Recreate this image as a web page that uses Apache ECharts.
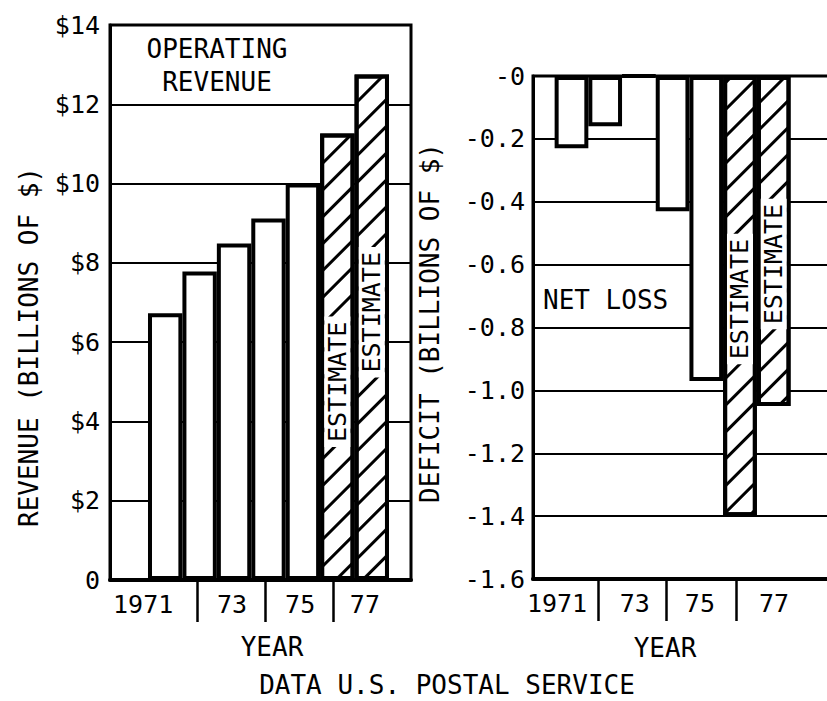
<!DOCTYPE html>
<html>
<head>
<meta charset="utf-8">
<script src="https://cdn.jsdelivr.net/npm/echarts@6/dist/echarts.min.js"></script>
<style>
  html, body { margin: 0; padding: 0; background: #fff; }
  #chart { width: 827px; height: 701px; }
</style>
</head>
<body>
<div id="chart"></div>
<script>
// Postal Service fiscal years, billions of dollars
const years = [1971, 1972, 1973, 1974, 1975, 1976, 1977];
const revenue = [6.73, 7.78, 8.49, 9.12, 10.0, 11.26, 12.75];
const deficit = [-0.23, -0.16, 0, -0.43, -0.97, -1.40, -1.05];
const isEstimate = [false, false, false, false, false, true, true];

// Axis tick labels
const yearTickLabels = ['1971', '73', '75', '77'];
const revenueTickLabels = ['0', '$2', '$4', '$6', '$8', '$10', '$12', '$14'];
const deficitTickLabels = ['-0', '-0.2', '-0.4', '-0.6', '-0.8', '-1.0', '-1.2', '-1.4', '-1.6'];

const FONT = "'DejaVu Sans Mono', monospace";
const INK = '#000';

// Diagonal hatching for the estimated years
const hatch = {
  symbol: 'rect',
  symbolSize: 1,
  color: INK,
  dashArrayX: [1, 0],
  dashArrayY: [2.5, 15.5],
  rotation: -Math.PI / 4
};

// Year-axis layout: tick marks between label groups, labels centred between them
const leftAxis = { min: 1969.397, max: 1978.139, ticks: [1971.92, 1973.90, 1975.87], labels: [1970.36, 1972.94, 1974.92, 1976.80] };
const rightAxis = { min: 1969.858, max: 1979.65, ticks: [1971.79, 1973.80, 1975.88], labels: [1970.57, 1972.88, 1974.81, 1977.01] };

function nearestLabel(axis, v) {
  let best = 0;
  axis.labels.forEach((p, i) => { if (Math.abs(p - v) < Math.abs(axis.labels[best] - v)) best = i; });
  return yearTickLabels[best];
}

function yearAxis(gridIndex, axis) {
  return {
    type: 'value', gridIndex, min: axis.min, max: axis.max, position: 'bottom',
    axisLine: { show: true, onZero: false, lineStyle: { color: INK, width: 4 } },
    axisTick: { show: true, customValues: axis.ticks, length: 42, inside: false, lineStyle: { color: INK, width: 2.5 } },
    axisLabel: { customValues: axis.labels, margin: 12, color: INK, fontFamily: FONT, fontSize: 25, formatter: v => nearestLabel(axis, v) },
    splitLine: { show: false }
  };
}

// Rotated label: the offset is applied along the text, so [-d, 0] moves it d pixels down
function estimateLabel(down) {
  return {
    show: true, position: 'inside', rotate: 90, formatter: 'ESTIMATE',
    color: INK, fontFamily: FONT, fontSize: 25, lineHeight: 24,
    backgroundColor: '#fff', padding: [1, 5], offset: [-down, 0]
  };
}

const leftLabelShift = [0, 0, 0, 0, 0, 25, -15];
const rightLabelShift = [0, 0, 0, 0, 0, 3, 23];

function barData(values, shifts) {
  return years.map((y, i) => {
    const item = { value: [y, values[i]] };
    if (isEstimate[i]) {
      item.itemStyle = { decal: hatch };
      item.label = estimateLabel(shifts[i]);
    }
    return item;
  });
}

const barStyle = { color: '#fff', borderColor: INK, borderWidth: 4 };

const option = {
  animation: false,
  backgroundColor: '#fff',
  grid: [
    { left: 110, top: 25, width: 301, height: 555, show: true, borderColor: INK, borderWidth: 3, backgroundColor: 'transparent', outerBoundsMode: 'none' },
    { left: 533, top: 76, width: 330, height: 503, show: true, borderColor: INK, borderWidth: 3, backgroundColor: 'transparent', outerBoundsMode: 'none' }
  ],
  xAxis: [yearAxis(0, leftAxis), yearAxis(1, rightAxis)],
  yAxis: [
    {
      type: 'value', gridIndex: 0, min: 0, max: 14, interval: 2,
      axisLine: { show: true, lineStyle: { color: INK, width: 3 } },
      axisTick: { show: false },
      axisLabel: { margin: 10, color: INK, fontFamily: FONT, fontSize: 25, formatter: v => revenueTickLabels[Math.round(v / 2)] },
      splitLine: { show: true, lineStyle: { color: INK, width: 2 } }
    },
    {
      type: 'value', gridIndex: 1, min: -1.6, max: 0, interval: 0.2,
      axisLine: { show: true, lineStyle: { color: INK, width: 3 } },
      axisTick: { show: false },
      axisLabel: { margin: 8, color: INK, fontFamily: FONT, fontSize: 25, formatter: v => deficitTickLabels[Math.round(-v / 0.2)] },
      splitLine: { show: true, lineStyle: { color: INK, width: 2 } }
    }
  ],
  series: [
    { type: 'bar', xAxisIndex: 0, yAxisIndex: 0, barWidth: 34.4, silent: true, itemStyle: barStyle, data: barData(revenue, leftLabelShift) },
    { type: 'bar', xAxisIndex: 1, yAxisIndex: 1, barWidth: 33.7, silent: true, itemStyle: barStyle, data: barData(deficit, rightLabelShift) }
  ],
  graphic: [
    { type: 'text', x: 217, y: 65, style: { text: 'OPERATING\nREVENUE', fill: INK, font: '26px ' + FONT, align: 'center', verticalAlign: 'middle', lineHeight: 33 } },
    { type: 'text', x: 543, y: 300, style: { text: 'NET LOSS', fill: INK, font: '26px ' + FONT, align: 'left', verticalAlign: 'middle' } },
    { type: 'text', x: 29, y: 347, rotation: Math.PI / 2, style: { text: 'REVENUE (BILLIONS OF $)', fill: INK, font: '26px ' + FONT, align: 'center', verticalAlign: 'middle' } },
    { type: 'text', x: 430, y: 323, rotation: Math.PI / 2, style: { text: 'DEFICIT (BILLIONS OF $)', fill: INK, font: '26px ' + FONT, align: 'center', verticalAlign: 'middle' } },
    { type: 'text', x: 272, y: 647, style: { text: 'YEAR', fill: INK, font: '26px ' + FONT, align: 'center', verticalAlign: 'middle' } },
    { type: 'text', x: 665, y: 648, style: { text: 'YEAR', fill: INK, font: '26px ' + FONT, align: 'center', verticalAlign: 'middle' } },
    { type: 'text', x: 447, y: 685, style: { text: 'DATA U.S. POSTAL SERVICE', fill: INK, font: '26px ' + FONT, align: 'center', verticalAlign: 'middle' } }
  ]
};

const chart = echarts.init(document.getElementById('chart'), null, { renderer: 'svg' });
chart.setOption(option);
</script>
</body>
</html>
